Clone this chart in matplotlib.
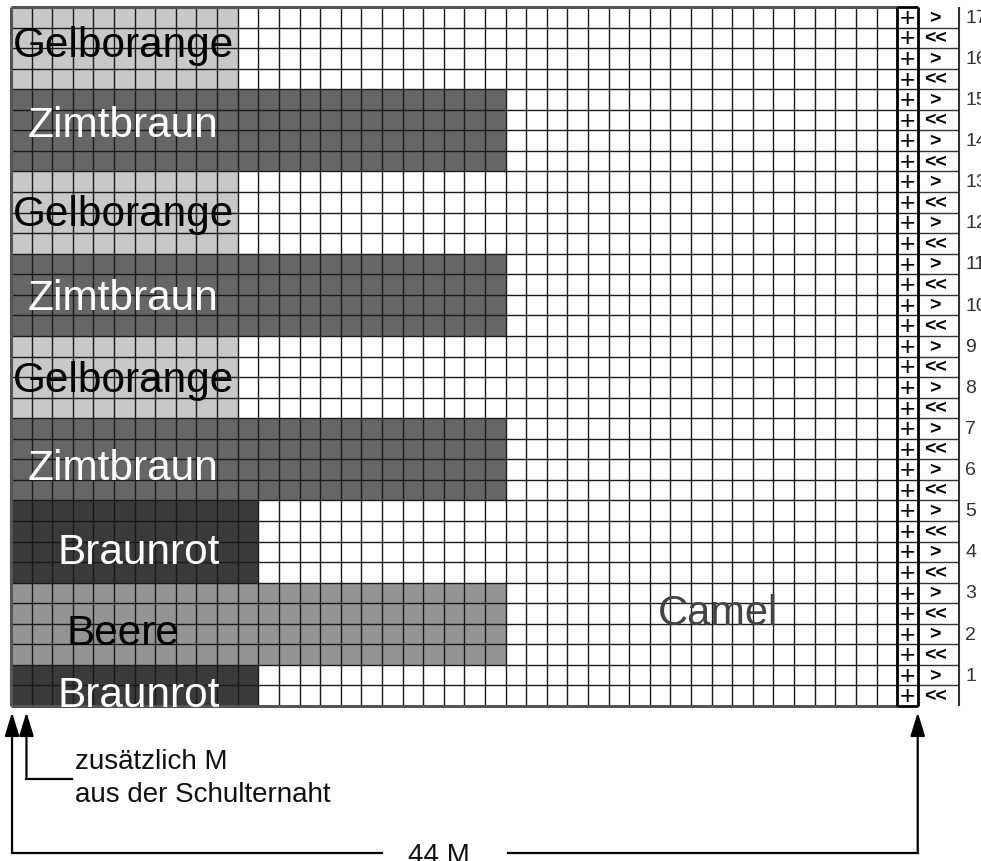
import matplotlib
matplotlib.use("Agg")
import matplotlib.pyplot as plt

# knitting chart data (bands listed bottom to top)
band_names = ["Braunrot", "Beere", "Braunrot", "Zimtbraun", "Gelborange",
              "Zimtbraun", "Gelborange", "Zimtbraun", "Gelborange"]
band_rows = [2, 4, 4, 4, 4, 4, 4, 4, 4]
band_stitches = [12, 24, 12, 24, 11, 24, 11, 24, 11]
n_cols = 44
n_rows = 34
row_marks = ["<<", ">"] * 17
row_numbers = list(range(1, 18))
background_yarn = "Camel"
note_lines = ["zusätzlich M", "aus der Schulternaht"]
width_label = "44 M"

# styles
yarn_colors = {"Braunrot": "#3a3a3a", "Beere": "#949494",
               "Zimtbraun": "#666666", "Gelborange": "#c8c8c8"}
text_colors = {"Braunrot": "white", "Beere": "black",
               "Zimtbraun": "white", "Gelborange": "black"}
label_x = {"Braunrot": 6.2, "Beere": 5.45, "Zimtbraun": 5.45, "Gelborange": 5.45}
label_base = [0.0, 1.0, 0.97, 1.02, 1.31, 1.31, 1.41, 1.75, 1.6]

plt.rcParams['font.family'] = ['Liberation Sans', 'DejaVu Sans']

fig = plt.figure(figsize=(9.81, 8.62), dpi=100)
ax = fig.add_axes([0, 0, 1, 1])
ax.set_xlim(-0.534, 47.07)
ax.set_ylim(-7.54, 34.39)
ax.axis('off')

# colour bands
bottoms = []
b = 0
for r in band_rows:
    bottoms.append(b)
    b += r
ax.barh(bottoms, band_stitches, height=band_rows, left=0, align='edge',
        color=[yarn_colors[n] for n in band_names], linewidth=0, zorder=1)

# grid
ax.hlines(range(1, n_rows), 0, n_cols, colors='#1a1a1a', lw=1.0, zorder=2)
ax.vlines(range(1, n_cols), 0, n_rows, colors='#1a1a1a', lw=1.0, zorder=2)
ax.hlines([0, n_rows], 0, n_cols - 1, colors='#555555', lw=2.2, zorder=3)
ax.vlines([0], 0, n_rows, colors='#555555', lw=2.2, zorder=3)

# selvedge column with "+"
ax.vlines([n_cols - 1, n_cols], 0, n_rows, colors='black', lw=2, zorder=3)
ax.hlines([0, n_rows], n_cols - 1, n_cols, colors='black', lw=2, zorder=3)
ax.hlines(range(1, n_rows), n_cols, n_cols + 2, colors='#333333', lw=1.0, zorder=2)
ax.vlines([n_cols + 2], 0, n_rows, colors='#333333', lw=1.5, zorder=2)
for i in range(n_rows):
    ax.text(n_cols - 0.5, i + 0.47, "+", ha='center', va='center', fontsize=19,
            color='black', zorder=4)
    ax.text(n_cols + 0.85, i + 0.5, row_marks[i], ha='center', va='center',
            fontsize=14, fontweight='bold', color='black', zorder=4)
for n in row_numbers:
    ax.text(n_cols + 2.3, 2 * n - 1 + 0.5, str(n), ha='left', va='center',
            fontsize=14, color='#333333', fontstretch='condensed',
            family=['Liberation Sans Narrow', 'Liberation Sans'])

# band labels
for name, bot, off in zip(band_names, bottoms, label_base):
    ax.text(label_x[name], bot + off, name, ha='center', va='baseline',
            fontsize=30.5, color=text_colors[name], zorder=5)
ax.text(34.3, 4.0, background_yarn, ha='center', va='baseline', fontsize=30,
        color='#444444', zorder=5)

# arrows and notes below the chart
arrow = dict(arrowstyle='-|>,head_length=0.72,head_width=0.22', lw=1.6,
             color='black', shrinkA=0, shrinkB=0, mutation_scale=20)
ax.annotate('', xy=(0.05, -0.3), xytext=(0.05, -7.15), arrowprops=arrow)
ax.annotate('', xy=(0.75, -0.3), xytext=(0.75, -3.55), arrowprops=arrow)
ax.annotate('', xy=(n_cols, -0.3), xytext=(n_cols, -7.15), arrowprops=arrow)
ax.plot([0.75, 2.95], [-3.55, -3.55], color='black', lw=1.6)
ax.plot([0.05, 18.0], [-7.15, -7.15], color='black', lw=1.6)
ax.plot([24.1, n_cols], [-7.15, -7.15], color='black', lw=1.6)
ax.text(3.1, -3.0, note_lines[0], ha='left', va='baseline', fontsize=20, color='#111111')
ax.text(3.1, -4.6, note_lines[1], ha='left', va='baseline', fontsize=20, color='#111111')
ax.text(20.75, -7.6, width_label, ha='center', va='baseline', fontsize=20, color='#111111')

fig.savefig("out.png", dpi=100)
